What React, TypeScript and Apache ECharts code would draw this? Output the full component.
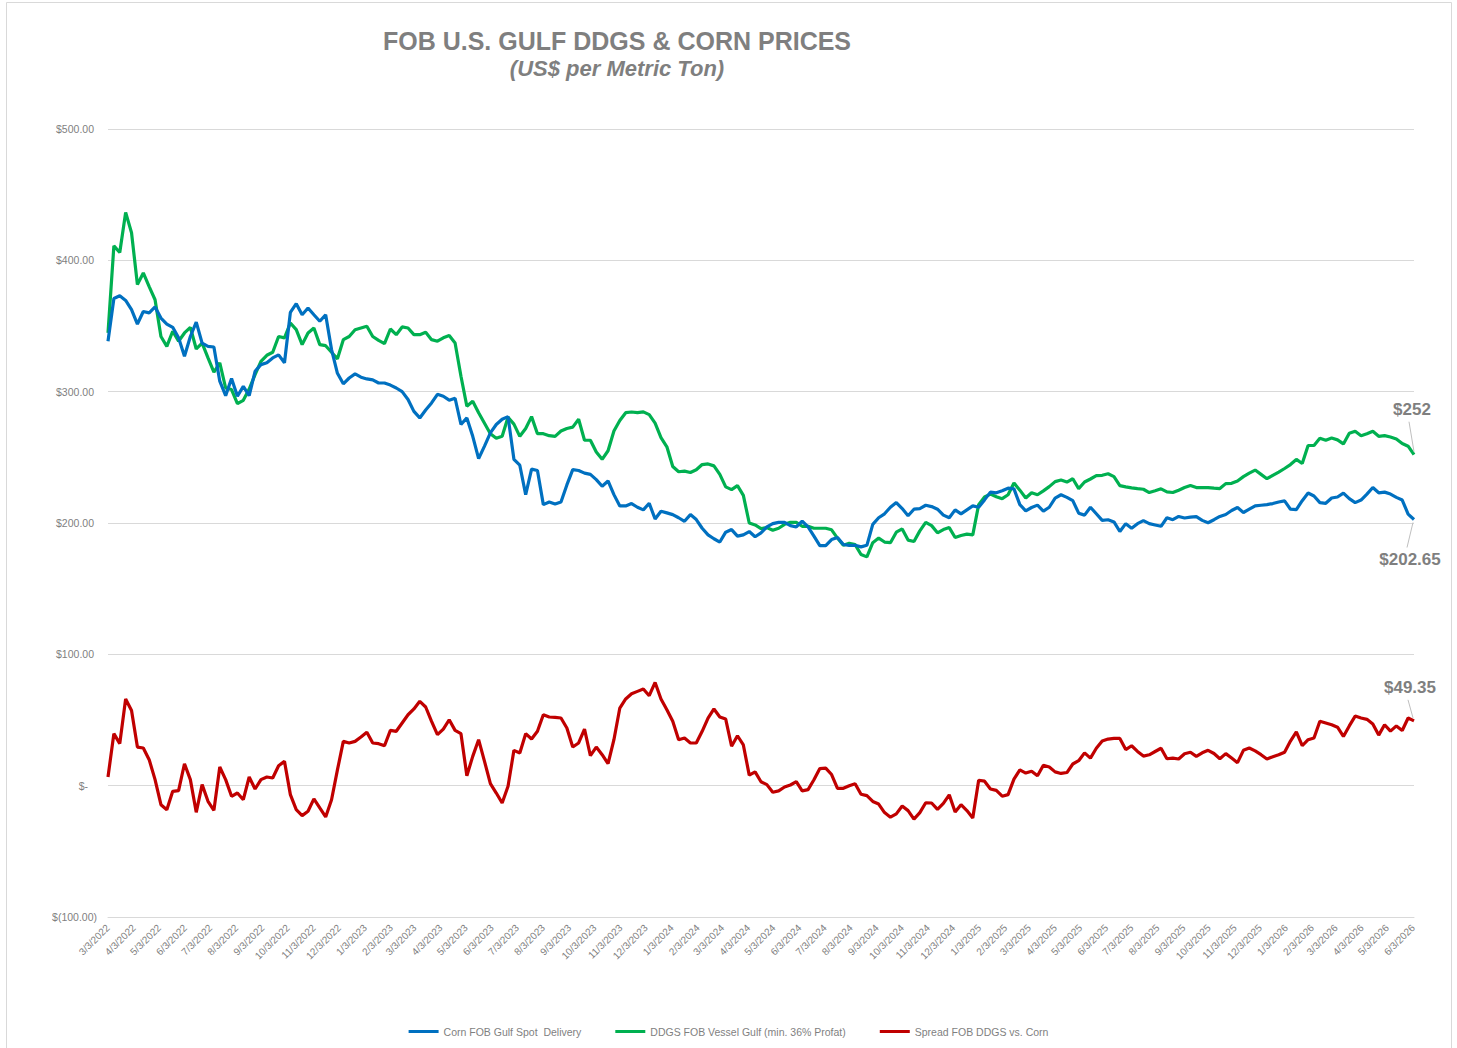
import React, { useEffect, useRef } from "react";
import * as echarts from "echarts";

// Weekly observations starting 3/3/2022
const START_YEAR = 2022;
const START_MONTH = 2; // March (0-based)
const START_DAY = 3;

const seriesNames = [
  "Corn FOB Gulf Spot  Delivery",
  "DDGS FOB Vessel Gulf (min. 36% Profat)",
  "Spread FOB DDGS vs. Corn",
];

const corn = [
  338.4, 371, 373, 369.5, 362.5, 351.5, 361, 360, 364.5, 356,
  351.5, 349, 341, 327, 342, 353, 337, 334.5, 334, 308,
  297, 310, 296.5, 304, 297, 315.5, 320.6, 322, 325.7, 328,
  322, 360.4, 367, 358.6, 363.7, 358.6, 353.6, 358.6, 332, 314,
  306, 310.4, 313.5, 311, 309.7, 309, 306.6, 306.6, 305, 302.8,
  300, 294, 285, 280, 286, 291.4, 298, 296.5, 293.5, 295,
  275, 280, 266, 249, 258.5, 268.6, 275, 279, 281, 248.5,
  244, 221.6, 241, 240, 214, 216, 214.5, 216, 229, 240.6,
  240, 238, 237, 233, 228, 232, 221.6, 213, 213, 214.8,
  212, 210, 215, 203, 209, 207.7, 206.4, 204, 201.3, 206.4,
  202.6, 196, 191, 188, 185.5, 193, 195, 190, 191, 193.5,
  189.5, 192.5, 197, 199.5, 200.5, 200.5, 198, 197, 201.5, 197,
  190, 182.8, 182.8, 187.4, 189, 183.6, 183, 183, 181.8, 183,
  199, 204, 207, 212, 215.6, 211, 205.5, 210.5, 211, 213.5,
  212.5, 210.5, 206, 204, 210, 207, 210, 213, 212, 217.6,
  223.5, 223, 224.5, 226.5, 226, 214, 209.3, 211.8, 213.6, 209,
  212, 219, 221.5, 219.5, 217, 207.5, 206, 212, 207, 202,
  202.5, 200.8, 193.5, 199.5, 196, 199.5, 201.8, 199.5, 198.5, 197.5,
  204, 202.5, 205, 203.8, 204.5, 204.8, 202, 200.2, 202.5, 205,
  206.5, 209.5, 211.8, 208, 210.5, 213, 213.5, 214, 214.8, 216,
  216.8, 210.5, 210.2, 217, 222.8, 220.6, 215.5, 215, 219, 219.8,
  222.8, 218.5, 215.5, 217.5, 222, 227, 223, 223.5, 222, 219.5,
  217.5, 206.8, 202.65,
];

const ddgs = [
  344.7, 411, 406, 436.5, 421, 381.5, 390.4, 380, 370, 342,
  334.5, 346, 338.4, 344.7, 349, 332.5, 337, 325.7, 314.8, 322,
  302.8, 301.6, 290.9, 293.4, 302, 313, 323, 327.7, 330, 342,
  341, 352.3, 347.2, 335.8, 344.7, 348.5, 335.8, 335, 330, 325,
  339.6, 342, 347.2, 348.5, 349.8, 342, 339, 336.6, 347.7, 343.4,
  349.3, 348.5, 343.4, 343.4, 345.2, 339.6, 338.4, 341, 342.7, 337,
  311.7, 288.9, 292.7, 284, 276, 268, 264.5, 266, 280.5, 275.3,
  266, 272, 281, 268, 268, 266.5, 266, 270, 272, 273,
  279, 263, 263, 254, 248.5, 255, 270, 278, 284, 284.5,
  284, 284.6, 282.5, 276, 265, 258, 243, 239, 239.5, 238.5,
  240.5, 244.5, 245, 243.5, 237, 227.5, 225.4, 228.5, 221, 200,
  198.5, 195.8, 196.5, 194.5, 196, 199, 200.5, 200.5, 197.5, 197.5,
  196, 196, 196, 194.8, 188.5, 183, 184.5, 183.5, 176, 174.2,
  185, 188.5, 185.5, 185, 193, 195.5, 187, 185.9, 194, 200.5,
  198, 192.5, 195, 196.5, 189, 190.5, 191.5, 191, 214, 219.8,
  222, 220, 218.5, 221.5, 230.5, 225, 219, 223, 221.5, 224.5,
  227.7, 231.5, 232.7, 231.2, 233.7, 226.2, 231.2, 233.5, 236, 236.3,
  237.5, 235.3, 228.5, 227.5, 226.8, 226.2, 225.7, 223.2, 224.5, 226,
  223.7, 223.2, 225, 227, 228.5, 227, 227, 227, 226.5, 226.2,
  230, 230.2, 232, 235.3, 238, 240.3, 237, 233.7, 236.3, 238.8,
  241.5, 244.5, 248.4, 245.3, 259, 259, 264.5, 263, 264.7, 263.3,
  260.2, 268.3, 269.8, 266.5, 268, 269.8, 266, 266.5, 265.5, 264,
  260.5, 258.5, 252,
];

const spread = [
  6.6, 39.6, 32, 66, 57.3, 29.4, 28.7, 19.8, 4.6, -14.5,
  -18.3, -4.3, -3.8, 16.7, 4.6, -20.3, 0.8, -11.9, -18.8, 14.2,
  4.6, -8.1, -5.6, -10.7, 6.6, -2.5, 4.6, 6.6, 5.8, 15.2,
  18.5, -6.8, -18.3, -22.8, -19.5, -10.1, -17, -23.8, -10.7, 12,
  33.7, 32.5, 33.7, 37, 40.6, 32.5, 32, 30.4, 42.1, 41.4,
  47.7, 54, 58.4, 64.2, 59.9, 49, 38.8, 43.1, 50.2, 42.1,
  39.6, 7.6, 22.3, 35, 18.5, 1.5, -5.6, -13.2, -0.5, 26.9,
  24.9, 39.6, 35.5, 41.4, 54, 52.3, 52, 51.5, 43.9, 29.4,
  32.5, 43.1, 22.8, 29.4, 23.6, 16.7, 35, 59.1, 66, 70,
  71.8, 73.6, 68.5, 78.6, 66, 57.8, 49, 35, 36.3, 32.5,
  32.5, 41.4, 51.5, 58.4, 52.3, 50.7, 30, 38, 31, 8,
  10.5, 3, 0.8, -5, -4, -1, 0.5, 3, -4, -3,
  4.5, 13, 13.4, 8.5, -2, -2, 0, 1.5, -6.5, -7.6,
  -12, -14, -20.5, -24, -21.5, -15.5, -19, -25.5, -20.5, -13,
  -13.2, -18, -13.5, -7, -20, -14.5, -19, -24.6, 4.1, 3.4,
  -2.5, -3.6, -8, -6.8, 5, 12, 9.6, 11, 7.5, 15.5,
  14.2, 10.5, 9.3, 10, 16.5, 19, 25, 21, 28.5, 34,
  35.5, 36, 36, 27.5, 30.4, 26.1, 22.5, 23.5, 26, 28.5,
  20.5, 21, 20.3, 24.3, 25.4, 22.3, 25, 26.9, 24.5, 20.5,
  24.4, 21, 17.5, 26.9, 28.7, 26.5, 23.6, 20.3, 22, 23.5,
  25.5, 34, 41, 30.4, 35, 36.3, 49, 47.7, 46.4, 44.5,
  37.5, 45.5, 53, 51.5, 50.5, 47, 38.5, 46.4, 41.5, 45.5,
  42, 51.5, 49.35,
];

const MONTH_LABEL_COUNT = 52; // 3/3/2022 ... 6/3/2026
const Y_MIN = -100;
const Y_MAX = 500;
const Y_STEP = 100;

const COLORS = ["#0070c0", "#00b050", "#c00000"];
const TEXT_GRAY = "#7f7f7f";
const FONT = '"Liberation Sans", Arial, sans-serif';

const DAY = 86400000;
const START_UTC = Date.UTC(START_YEAR, START_MONTH, START_DAY);

// x positions as day offsets from the start date
const weekDays = corn.map((_, i) => i * 7);
const monthTickDays = Array.from({ length: MONTH_LABEL_COUNT }, (_, i) =>
  Math.round((Date.UTC(START_YEAR, START_MONTH + i, START_DAY) - START_UTC) / DAY)
);

const fmtDate = (dayOffset: number) => {
  const d = new Date(START_UTC + Math.round(dayOffset) * DAY);
  return `${d.getUTCMonth() + 1}/${d.getUTCDate()}/${d.getUTCFullYear()}`;
};

const fmtMoney = (v: number) => {
  if (v === 0) return "{z|$-}";
  if (v < 0) return `{n|$(${Math.abs(v).toFixed(2)})}`;
  return `{p|$${v.toFixed(2)}}`;
};

export default function App() {
  const ref = useRef<HTMLDivElement>(null);

  useEffect(() => {
    document.body.style.margin = "0";
    const el = ref.current!;
    const chart = echarts.init(el, null, { renderer: "svg" });

    const mk = (arr: number[]) => arr.map((v, i) => [weekDays[i], v]);
    const lastDay = weekDays[weekDays.length - 1];

    chart.setOption({
      animation: false,
      backgroundColor: "#ffffff",
      grid: {
        left: 108,
        right: 43,
        top: 129,
        bottom: 131,
        containLabel: false,
      },
      legend: {
        data: seriesNames,
        left: "center",
        top: 1021,
        icon: "rect",
        itemWidth: 30,
        itemHeight: 3,
        itemGap: 34,
        textStyle: { color: TEXT_GRAY, fontSize: 10.5, fontFamily: FONT },
      },
      xAxis: {
        type: "value",
        min: 0,
        max: lastDay,
        axisLine: { show: true, onZero: false, lineStyle: { color: "#d9d9d9" } },
        axisTick: { show: false },
        splitLine: { show: false },
        axisLabel: {
          customValues: monthTickDays,
          rotate: 45,
          margin: 9,
          fontSize: 10,
          color: TEXT_GRAY,
          fontFamily: FONT,
          hideOverlap: false,
          formatter: (v: number) => fmtDate(v),
        },
      },
      yAxis: {
        type: "value",
        min: Y_MIN,
        max: Y_MAX,
        interval: Y_STEP,
        axisLine: { show: false },
        axisTick: { show: false },
        splitLine: { show: true, lineStyle: { color: "#d9d9d9", width: 1 } },
        axisLabel: {
          margin: 11,
          color: TEXT_GRAY,
          fontSize: 10.5,
          fontFamily: FONT,
          formatter: (v: number) => fmtMoney(v),
          rich: {
            p: { color: TEXT_GRAY, fontSize: 10.5, fontFamily: FONT, padding: [0, 3, 0, 0] },
            n: { color: TEXT_GRAY, fontSize: 10.5, fontFamily: FONT },
            z: { color: TEXT_GRAY, fontSize: 10.5, fontFamily: FONT, padding: [0, 9, 0, 0] },
          },
        },
      },
      series: [
        {
          name: seriesNames[0],
          type: "line",
          data: mk(corn),
          showSymbol: false,
          symbol: "none",
          lineStyle: { color: COLORS[0], width: 3.2 },
          itemStyle: { color: COLORS[0] },
          z: 3,
        },
        {
          name: seriesNames[1],
          type: "line",
          data: mk(ddgs),
          showSymbol: false,
          symbol: "none",
          lineStyle: { color: COLORS[1], width: 3.2 },
          itemStyle: { color: COLORS[1] },
          z: 2,
        },
        {
          name: seriesNames[2],
          type: "line",
          data: mk(spread),
          showSymbol: false,
          symbol: "none",
          lineStyle: { color: COLORS[2], width: 3.2 },
          itemStyle: { color: COLORS[2] },
          z: 2,
        },
      ],
    });

    const last = weekDays.length - 1;
    const px = (v: number) =>
      chart.convertToPixel({ gridIndex: 0 }, [weekDays[last], v]) as number[];
    const g = px(ddgs[last]);
    const b = px(corn[last]);
    const r = px(spread[last]);

    const annFont = `bold 17px ${FONT}`;
    const leader = (x1: number, y1: number, x2: number, y2: number) => ({
      type: "line",
      silent: true,
      shape: { x1, y1, x2, y2 },
      style: { stroke: "#bfbfbf", lineWidth: 1 },
      z: 10,
    });
    const ann = (text: string, x: number, y: number) => ({
      type: "text",
      silent: true,
      x,
      y,
      style: {
        text,
        font: annFont,
        fill: TEXT_GRAY,
        textAlign: "center",
        textVerticalAlign: "middle",
      },
      z: 10,
    });

    chart.setOption({
      graphic: [
        {
          type: "rect",
          silent: true,
          shape: { x: 6.5, y: 2.5, width: 1445, height: 1070 },
          style: { fill: "none", stroke: "#d9d9d9", lineWidth: 1 },
          z: -1,
        },
        {
          type: "text",
          silent: true,
          x: 617,
          y: 41,
          style: {
            text: "FOB U.S. GULF DDGS & CORN PRICES",
            font: `bold 25px ${FONT}`,
            fill: TEXT_GRAY,
            textAlign: "center",
            textVerticalAlign: "middle",
          },
        },
        {
          type: "text",
          silent: true,
          x: 617,
          y: 68,
          style: {
            text: "(US$ per Metric Ton)",
            font: `italic bold 22px ${FONT}`,
            fill: TEXT_GRAY,
            textAlign: "center",
            textVerticalAlign: "middle",
          },
        },
        leader(g[0], g[1] - 3, g[0] - 5, g[1] - 33),
        ann(`$${Math.round(ddgs[last])}`, g[0] - 2, g[1] - 45),
        leader(b[0] - 1, b[1] + 3, b[0] - 7, b[1] + 28),
        ann(`$${corn[last].toFixed(2)}`, b[0] - 4, b[1] + 40),
        leader(r[0] - 1, r[1] - 3, r[0] - 6, r[1] - 21),
        ann(`$${spread[last].toFixed(2)}`, r[0] - 4, r[1] - 33),
      ],
    });

    return () => chart.dispose();
  }, []);

  return (
    <div
      ref={ref}
      style={{ position: "fixed", left: 0, top: 0, width: 1457, height: 1048, background: "#fff" }}
    />
  );
}
